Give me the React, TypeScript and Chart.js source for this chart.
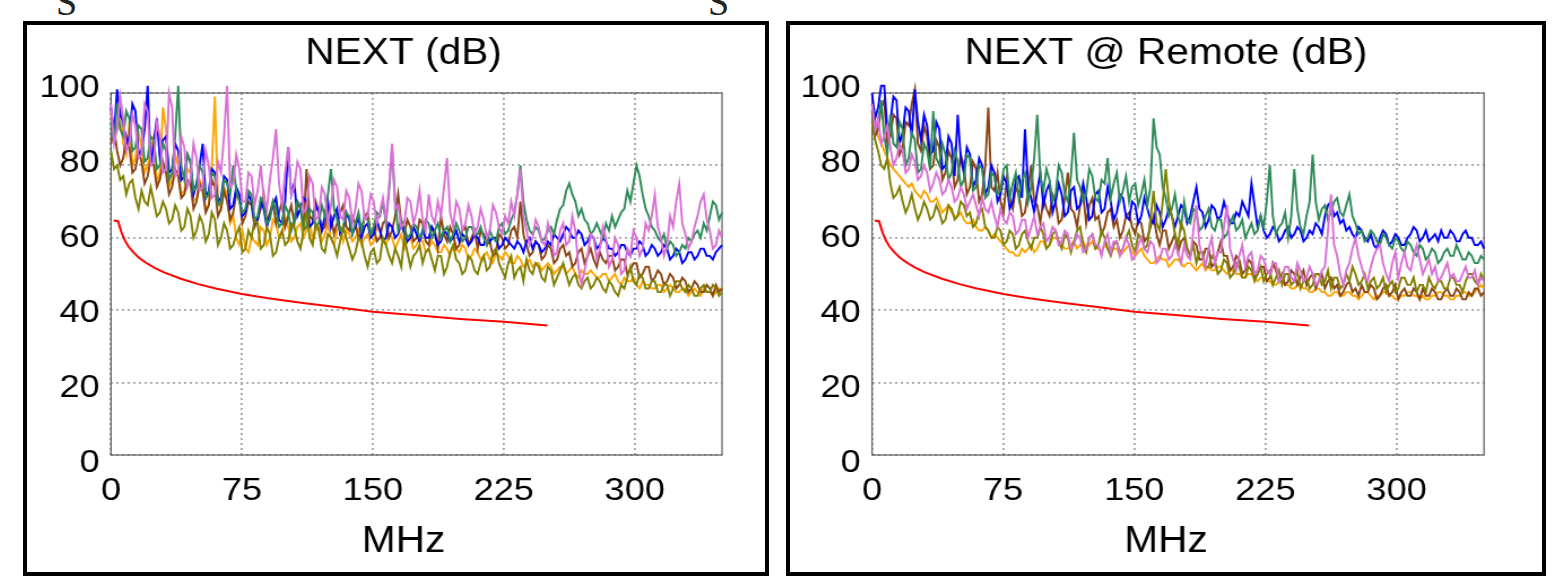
import React, { useEffect, useRef } from 'react';
import { Chart, registerables } from 'chart.js';

Chart.register(...registerables);

// ---------------- data ----------------
const freqMHz = [
  0, 1.75, 3.5, 5.25, 7, 8.75, 10.5, 12.25, 14, 15.75, 17.5, 19.25, 21, 22.75, 24.5, 26.25, 28, 29.75, 31.5, 33.25,
  35, 36.75, 38.5, 40.25, 42, 43.75, 45.5, 47.25, 49, 50.75, 52.5, 54.25, 56, 57.75, 59.5, 61.25, 63, 64.75, 66.5, 68.25,
  70, 71.75, 73.5, 75.25, 77, 78.75, 80.5, 82.25, 84, 85.75, 87.5, 89.25, 91, 92.75, 94.5, 96.25, 98, 99.75, 101.5, 103.25,
  105, 106.75, 108.5, 110.25, 112, 113.75, 115.5, 117.25, 119, 120.75, 122.5, 124.25, 126, 127.75, 129.5, 131.25, 133, 134.75, 136.5, 138.25,
  140, 141.75, 143.5, 145.25, 147, 148.75, 150.5, 152.25, 154, 155.75, 157.5, 159.25, 161, 162.75, 164.5, 166.25, 168, 169.75, 171.5, 173.25,
  175, 176.75, 178.5, 180.25, 182, 183.75, 185.5, 187.25, 189, 190.75, 192.5, 194.25, 196, 197.75, 199.5, 201.25, 203, 204.75, 206.5, 208.25,
  210, 211.75, 213.5, 215.25, 217, 218.75, 220.5, 222.25, 224, 225.75, 227.5, 229.25, 231, 232.75, 234.5, 236.25, 238, 239.75, 241.5, 243.25,
  245, 246.75, 248.5, 250.25, 252, 253.75, 255.5, 257.25, 259, 260.75, 262.5, 264.25, 266, 267.75, 269.5, 271.25, 273, 274.75, 276.5, 278.25,
  280, 281.75, 283.5, 285.25, 287, 288.75, 290.5, 292.25, 294, 295.75, 297.5, 299.25, 301, 302.75, 304.5, 306.25, 308, 309.75, 311.5, 313.25,
  315, 316.75, 318.5, 320.25, 322, 323.75, 325.5, 327.25, 329, 330.75, 332.5, 334.25, 336, 337.75, 339.5, 341.25, 343, 344.75, 346.5, 348.25, 350,
];

const limitFreq = [1.5, 4, 6, 8, 10, 13, 16, 20, 25, 30, 40, 50, 60, 75, 90, 110, 130, 150, 175, 200, 225, 250];
const limitDb = [64.8, 64.6, 61.5, 59.2, 57.6, 55.9, 54.5, 53.1, 51.7, 50.5, 48.7, 47.2, 46.0, 44.5, 43.3, 42.0, 40.8, 39.6, 38.6, 37.6, 36.8, 35.8];

const xTicks = [0, 75, 150, 225, 300];
const yTicks = [0, 20, 40, 60, 80, 100];

// ---- NEXT (dB) ----
const nextOlive = [
  84, 79, 80, 76, 77, 72, 75, 76, 71, 68, 73, 70, 69, 74, 70, 66, 67, 70, 68, 64,
  65, 69, 67, 62, 63, 68, 66, 60, 62, 66, 64, 59, 61, 67, 65, 58, 60, 64, 62, 57,
  58, 61, 63, 56, 57, 62, 60, 65, 64, 57, 58, 63, 61, 55, 56, 60, 62, 58, 59, 64,
  63, 59, 57, 62, 68, 60, 58, 64, 62, 57, 56, 61, 60, 58, 55, 59, 63, 60, 57, 54,
  56, 60, 59, 55, 52, 56, 57, 53, 54, 60, 58, 55, 53, 57, 55, 52, 60, 56, 52, 55,
  56, 58, 53, 56, 57, 54, 51, 55, 55, 50, 52, 56, 58, 54, 53, 50, 51, 55, 54, 51,
  50, 53, 55, 51, 52, 56, 57, 53, 51, 49, 53, 55, 49, 51, 52, 48, 54, 51, 50, 53,
  52, 49, 48, 52, 51, 47, 49, 51, 53, 50, 47, 49, 50, 47, 46, 48, 49, 46, 47, 49,
  48, 46, 45, 48, 47, 45, 44, 47, 46, 49, 52, 48, 47, 50, 49, 46, 46, 48, 48, 45,
  45, 47, 47, 44, 46, 48, 48, 46, 45, 47, 46, 44, 44, 46, 47, 45, 45, 47, 46, 44, 45,
];
const nextBrown = [
  86, 90, 84, 80, 82, 88, 85, 78, 79, 84, 81, 75, 77, 82, 80, 74, 76, 81, 78, 72,
  74, 79, 77, 71, 72, 76, 75, 68, 70, 75, 73, 67, 69, 76, 74, 66, 68, 73, 70, 65,
  67, 72, 71, 64, 66, 70, 69, 63, 65, 68, 72, 64, 67, 70, 64, 67, 70, 63, 66, 69,
  64, 70, 68, 63, 79, 66, 65, 70, 67, 62, 63, 68, 66, 61, 64, 67, 69, 63, 62, 66,
  64, 60, 61, 66, 67, 61, 63, 59, 60, 64, 65, 60, 62, 66, 72, 64, 61, 65, 63, 59,
  60, 65, 64, 59, 58, 63, 62, 57, 66, 61, 59, 63, 61, 57, 58, 62, 63, 58, 60, 62,
  57, 62, 61, 58, 59, 55, 56, 61, 60, 57, 58, 62, 63, 60, 70, 61, 58, 55, 56, 59,
  58, 54, 55, 58, 57, 53, 54, 57, 58, 55, 56, 52, 53, 56, 57, 53, 55, 57, 54, 52,
  56, 54, 53, 55, 55, 51, 52, 54, 54, 50, 51, 53, 53, 49, 50, 52, 52, 48, 49, 51,
  50, 47, 48, 50, 49, 46, 47, 49, 48, 45, 46, 48, 47, 45, 45, 47, 46, 44, 47, 45, 46,
];
const nextOrange = [
  95, 88, 90, 97, 86, 83, 92, 80, 82, 89, 85, 78, 80, 84, 88, 75, 78, 96, 90, 74,
  76, 83, 80, 72, 73, 79, 78, 70, 71, 76, 74, 68, 69, 80, 99, 70, 68, 74, 72, 64,
  66, 60, 58, 62, 57, 56, 60, 59, 58, 63, 62, 58, 60, 65, 64, 60, 61, 66, 63, 59,
  60, 63, 64, 60, 62, 65, 59, 62, 63, 59, 61, 64, 60, 58, 62, 63, 59, 62, 61, 59,
  60, 62, 58, 60, 61, 58, 59, 63, 62, 59, 58, 61, 60, 57, 59, 61, 57, 59, 60, 57,
  58, 60, 59, 56, 57, 59, 58, 56, 56, 58, 57, 55, 58, 57, 56, 58, 57, 54, 55, 57,
  56, 54, 55, 56, 54, 53, 56, 55, 54, 56, 55, 53, 53, 55, 54, 52, 53, 54, 52, 53,
  53, 51, 52, 53, 52, 50, 51, 52, 52, 50, 51, 52, 50, 49, 51, 50, 50, 51, 50, 49,
  49, 50, 50, 48, 49, 50, 48, 47, 49, 48, 48, 49, 47, 46, 48, 47, 47, 46, 46, 47,
  47, 45, 46, 47, 46, 45, 45, 46, 46, 44, 45, 46, 45, 44, 46, 45, 45, 44, 45, 46, 46,
];
const nextBlue = [
  96, 89, 101, 94, 92, 86, 88, 97, 95, 83, 84, 90, 102, 80, 86, 93, 82, 87, 88, 78,
  79, 86, 84, 76, 77, 83, 81, 72, 75, 80, 86, 71, 73, 79, 78, 70, 71, 77, 76, 68,
  69, 74, 72, 66, 67, 72, 70, 64, 65, 70, 68, 63, 66, 69, 71, 65, 64, 70, 85, 72,
  75, 66, 68, 71, 70, 63, 64, 69, 67, 62, 66, 70, 63, 66, 68, 61, 62, 67, 65, 61,
  63, 66, 60, 63, 64, 60, 61, 65, 62, 59, 60, 64, 63, 60, 61, 64, 62, 59, 60, 63,
  61, 59, 62, 60, 60, 63, 61, 58, 59, 62, 61, 59, 60, 62, 59, 61, 60, 58, 59, 61,
  60, 58, 58, 61, 59, 60, 60, 57, 58, 60, 59, 58, 57, 59, 58, 56, 59, 60, 57, 59,
  58, 56, 57, 59, 58, 61, 60, 59, 61, 63, 62, 60, 60, 62, 61, 58, 59, 61, 60, 57,
  58, 60, 59, 57, 57, 55, 56, 58, 58, 56, 55, 57, 57, 59, 58, 55, 56, 58, 57, 55,
  56, 58, 57, 54, 55, 57, 56, 53, 54, 56, 56, 54, 55, 57, 57, 55, 55, 54, 56, 57, 58,
];
const nextGreen = [
  92, 86, 97, 90, 88, 95, 93, 84, 85, 91, 90, 81, 82, 88, 87, 79, 80, 86, 84, 76,
  78, 88, 102, 80, 76, 83, 81, 73, 74, 80, 78, 71, 72, 78, 77, 69, 70, 76, 75, 72,
  80, 73, 70, 67, 68, 73, 72, 65, 66, 71, 70, 64, 65, 70, 68, 63, 64, 69, 67, 62,
  65, 70, 69, 62, 63, 68, 67, 63, 64, 69, 66, 72, 79, 68, 65, 62, 63, 67, 66, 61,
  64, 67, 62, 66, 65, 61, 63, 67, 66, 70, 64, 73, 85, 70, 62, 65, 63, 60, 61, 64,
  63, 60, 61, 65, 64, 60, 62, 64, 60, 62, 63, 59, 61, 64, 62, 59, 60, 63, 63, 61,
  61, 63, 60, 58, 62, 60, 59, 63, 64, 61, 62, 65, 67, 72, 80, 70, 65, 62, 61, 63,
  62, 59, 60, 62, 63, 61, 65, 68, 69, 73, 75, 72, 70, 66, 68, 65, 64, 61, 62, 64,
  62, 60, 64, 62, 66, 63, 65, 67, 68, 73, 70, 75, 80, 77, 72, 68, 66, 63, 62, 60,
  59, 61, 57, 59, 58, 55, 56, 58, 57, 60, 59, 61, 62, 60, 64, 62, 66, 70, 69, 65, 67,
];
const nextPink = [
  97, 86, 90, 99, 93, 84, 86, 94, 91, 82, 83, 97, 95, 80, 81, 92, 88, 78, 79, 100,
  96, 77, 78, 88, 85, 74, 76, 86, 82, 73, 74, 84, 80, 71, 72, 81, 78, 88, 102, 74,
  75, 83, 79, 70, 70, 78, 77, 69, 73, 80, 71, 68, 76, 82, 90, 75, 69, 78, 85, 72,
  74, 81, 79, 67, 68, 77, 75, 65, 66, 74, 72, 64, 69, 76, 74, 66, 65, 73, 71, 64,
  68, 75, 73, 65, 66, 72, 70, 64, 67, 71, 65, 74, 86, 68, 69, 63, 64, 71, 70, 64,
  67, 73, 65, 62, 72, 66, 64, 70, 66, 74, 82, 67, 63, 70, 68, 62, 64, 69, 66, 61,
  63, 68, 65, 60, 62, 69, 67, 63, 61, 66, 64, 70, 66, 72, 79, 66, 62, 58, 60, 65,
  63, 59, 58, 64, 61, 55, 56, 62, 64, 58, 59, 66, 62, 52, 47, 51, 55, 61, 60, 54,
  57, 63, 60, 52, 54, 60, 58, 50, 51, 57, 55, 62, 60, 55, 57, 64, 62, 66, 72, 63,
  60, 55, 58, 66, 63, 70, 75, 64, 61, 57, 59, 63, 66, 70, 72, 65, 62, 57, 58, 62, 60,
];

// ---- NEXT @ Remote (dB) ----
const remoteBlue = [
  100, 93, 96, 102, 102, 90, 92, 99, 98, 86, 89, 96, 95, 88, 101, 92, 87, 94, 91, 83,
  84, 92, 90, 79, 80, 88, 86, 77, 94, 82, 78, 85, 83, 74, 76, 82, 80, 72, 74, 80,
  78, 70, 72, 77, 75, 68, 70, 76, 77, 71, 90, 74, 71, 67, 73, 78, 69, 73, 75, 67,
  70, 75, 72, 66, 67, 73, 74, 68, 69, 75, 71, 65, 66, 72, 73, 67, 68, 74, 70, 65,
  67, 72, 71, 66, 65, 70, 69, 64, 66, 71, 68, 65, 64, 69, 67, 63, 65, 68, 66, 63,
  66, 69, 68, 64, 66, 70, 74, 68, 67, 63, 65, 69, 68, 65, 66, 70, 67, 64, 64, 67,
  66, 70, 68, 66, 75, 69, 63, 66, 62, 60, 61, 63, 62, 59, 60, 62, 63, 60, 61, 63,
  62, 59, 60, 62, 61, 64, 63, 61, 66, 69, 70, 66, 67, 64, 65, 62, 63, 61, 60, 63,
  62, 60, 59, 61, 58, 57, 60, 62, 61, 58, 59, 61, 60, 58, 58, 60, 61, 63, 62, 59,
  60, 62, 59, 60, 61, 59, 62, 60, 60, 62, 61, 59, 59, 61, 62, 60, 60, 58, 58, 59, 57,
];
const remoteGreen = [
  97, 90, 92, 98, 88, 83, 94, 86, 85, 92, 90, 80, 82, 89, 87, 78, 79, 86, 84, 79,
  95, 82, 80, 86, 83, 76, 78, 84, 81, 74, 76, 83, 82, 73, 74, 80, 79, 71, 72, 78,
  77, 72, 73, 79, 80, 71, 75, 78, 71, 76, 78, 70, 74, 82, 94, 77, 73, 79, 76, 70,
  72, 80, 78, 72, 70, 77, 89, 76, 74, 70, 72, 79, 77, 71, 70, 76, 75, 82, 71, 75,
  78, 70, 73, 77, 70, 74, 75, 69, 72, 76, 69, 74, 93, 85, 83, 74, 71, 66, 68, 72,
  66, 63, 70, 65, 64, 68, 67, 62, 63, 66, 68, 63, 62, 65, 65, 60, 61, 64, 66, 62,
  63, 65, 60, 62, 64, 61, 62, 66, 63, 70, 80, 66, 61, 63, 64, 67, 60, 66, 79, 68,
  63, 61, 66, 70, 83, 70, 65, 68, 69, 65, 67, 70, 71, 67, 66, 69, 72, 66, 64, 61,
  62, 59, 60, 62, 61, 59, 58, 61, 60, 58, 57, 60, 59, 57, 56, 59, 58, 56, 55, 58,
  57, 54, 55, 57, 56, 53, 54, 56, 57, 55, 55, 58, 56, 54, 54, 56, 55, 53, 53, 55, 54,
];
const remoteBrown = [
  95, 88, 90, 96, 98, 86, 88, 94, 93, 83, 85, 92, 91, 97, 101, 86, 84, 91, 88, 79,
  80, 87, 85, 76, 78, 84, 82, 74, 76, 83, 80, 72, 74, 81, 79, 70, 72, 80, 96, 74,
  73, 78, 70, 67, 76, 71, 68, 74, 72, 66, 67, 73, 80, 70, 69, 64, 71, 68, 66, 72,
  70, 64, 65, 71, 78, 68, 67, 63, 69, 72, 64, 69, 71, 65, 66, 61, 63, 67, 68, 63,
  65, 60, 62, 66, 67, 63, 61, 65, 64, 59, 60, 63, 66, 61, 58, 62, 62, 57, 59, 61,
  56, 59, 60, 57, 55, 59, 58, 54, 54, 57, 57, 52, 53, 56, 59, 55, 55, 51, 52, 55,
  54, 50, 51, 54, 53, 49, 50, 52, 52, 48, 49, 53, 51, 48, 50, 47, 48, 51, 50, 47,
  49, 51, 47, 49, 50, 46, 48, 50, 46, 48, 49, 46, 47, 44, 45, 47, 48, 45, 46, 44,
  47, 45, 45, 47, 46, 43, 44, 46, 47, 44, 45, 47, 43, 45, 46, 44, 44, 46, 45, 43,
  46, 44, 44, 46, 45, 43, 43, 45, 46, 44, 44, 46, 45, 43, 43, 45, 44, 46, 46, 44, 45,
];
const remoteOlive = [
  92, 87, 84, 80, 79, 82, 75, 71, 72, 74, 70, 67, 69, 72, 68, 65, 67, 70, 68, 65,
  66, 69, 67, 64, 65, 69, 68, 65, 66, 70, 69, 66, 67, 63, 64, 67, 68, 63, 62, 60,
  60, 63, 62, 58, 59, 62, 61, 57, 58, 61, 62, 59, 57, 60, 60, 63, 61, 57, 58, 61,
  62, 59, 57, 61, 60, 56, 59, 62, 63, 58, 56, 60, 61, 57, 58, 62, 60, 57, 55, 58,
  59, 56, 57, 60, 62, 58, 56, 61, 60, 57, 58, 65, 73, 64, 62, 70, 79, 70, 66, 61,
  58, 64, 62, 57, 55, 58, 53, 56, 56, 52, 52, 55, 54, 50, 51, 54, 53, 49, 50, 53,
  52, 49, 49, 52, 51, 48, 50, 52, 48, 50, 51, 47, 49, 51, 47, 50, 50, 47, 48, 51,
  46, 48, 49, 46, 47, 50, 50, 47, 48, 51, 46, 49, 49, 46, 47, 50, 48, 52, 50, 47,
  48, 50, 46, 48, 49, 46, 47, 49, 45, 47, 48, 45, 46, 49, 49, 47, 47, 49, 45, 47,
  47, 45, 49, 47, 46, 48, 48, 46, 46, 49, 49, 47, 47, 45, 48, 50, 50, 48, 47, 50, 48,
];
const remoteOrange = [
  95, 91, 88, 86, 84, 82, 80, 79, 78, 77, 76, 75, 74, 75, 73, 72, 71, 73, 72, 70,
  70, 71, 69, 67, 68, 69, 67, 66, 66, 67, 65, 64, 64, 65, 63, 62, 62, 63, 62, 60,
  61, 60, 59, 58, 57, 56, 56, 55, 55, 57, 56, 57, 58, 56, 57, 59, 59, 57, 58, 60,
  60, 59, 58, 57, 57, 58, 59, 57, 58, 59, 57, 58, 59, 57, 57, 56, 58, 57, 56, 57,
  57, 55, 56, 57, 58, 56, 55, 56, 57, 55, 54, 53, 53, 54, 55, 54, 54, 52, 53, 54,
  54, 53, 52, 53, 53, 52, 51, 52, 53, 51, 52, 51, 51, 52, 52, 51, 50, 51, 51, 50,
  50, 49, 49, 50, 50, 49, 48, 49, 49, 48, 48, 47, 47, 48, 48, 47, 47, 46, 46, 47,
  47, 46, 46, 45, 45, 46, 46, 45, 45, 44, 44, 45, 45, 44, 44, 45, 45, 44, 44, 43,
  44, 45, 45, 44, 43, 44, 44, 45, 45, 44, 44, 43, 43, 44, 44, 45, 45, 44, 44, 43,
  44, 43, 43, 44, 44, 45, 45, 44, 44, 43, 43, 44, 44, 45, 45, 44, 44, 45, 46, 47, 46,
];
const remotePink = [
  97, 90, 93, 86, 88, 91, 85, 80, 82, 86, 84, 78, 79, 83, 81, 76, 77, 80, 78, 73,
  75, 78, 76, 72, 73, 76, 74, 70, 71, 74, 72, 68, 70, 72, 69, 66, 71, 68, 67, 70,
  66, 63, 68, 65, 64, 67, 66, 61, 62, 65, 65, 60, 63, 66, 61, 63, 64, 59, 60, 63,
  62, 58, 59, 62, 61, 57, 58, 61, 60, 56, 57, 60, 61, 58, 58, 55, 59, 61, 56, 59,
  59, 55, 57, 60, 58, 54, 55, 58, 60, 57, 56, 59, 58, 53, 54, 57, 57, 54, 55, 58,
  56, 53, 58, 55, 54, 62, 69, 58, 55, 52, 57, 60, 53, 56, 56, 63, 69, 57, 54, 51,
  55, 58, 52, 55, 56, 50, 51, 55, 54, 51, 50, 53, 53, 48, 49, 52, 52, 49, 48, 53,
  51, 48, 49, 52, 50, 47, 48, 51, 52, 62, 72, 58, 55, 50, 47, 51, 53, 57, 60, 55,
  52, 49, 48, 52, 55, 57, 58, 53, 50, 48, 53, 56, 49, 53, 56, 52, 51, 55, 58, 54,
  50, 52, 54, 50, 52, 48, 49, 51, 53, 49, 50, 48, 48, 50, 52, 49, 49, 51, 47, 49, 48,
];

// ---------------- styling ----------------
const SX = 1.13; // horizontal stretch of the reference rendering
const FONT = "'Liberation Sans', Arial, Helvetica, sans-serif";
const GRID = '#a4a4a4';
const TITLE_SIZE = 36;
const TICK_SIZE = 32;
const C = {
  red: '#ff0000',
  pink: '#da70d6',
  olive: '#808000',
  green: '#2e8b57',
  blue: '#0000ff',
  brown: '#8b4513',
  orange: '#ffa500',
};

type Series = { label: string; color: string; values: number[] };

type PanelCfg = {
  title: string;
  boxLeft: number;
  boxWidth: number;
  chartLeftPx: number;
  chartRightPx: number;
  textCenterPx: number;
  series: Series[];
};

const frame = {
  id: 'frame',
  beforeDatasetsDraw(chart: any) {
    const { ctx, chartArea } = chart;
    const { left, top, right, bottom } = chartArea;
    ctx.save();
    ctx.strokeStyle = '#5a5a5a';
    ctx.lineWidth = 1.2;
    ctx.strokeRect(left, top, right - left, bottom - top);
    ctx.restore();
  },
};

const BOX_TOP = 21;
const BORDER = 4;
const CANVAS_H = 547;
const CHART_TOP = 68; // inside canvas
const CHART_BOTTOM = 430;

function Panel({ cfg }: { cfg: PanelCfg }) {
  const ref = useRef<HTMLCanvasElement | null>(null);
  const iL = cfg.boxLeft + BORDER;
  const cl = (cfg.chartLeftPx - iL) / SX;
  const cr = (cfg.chartRightPx - iL) / SX;
  const tc = (cfg.textCenterPx - iL) / SX;
  const canvasW = Math.ceil(2 * tc);
  const padR = canvasW - 2 * tc;
  const rW = 2 * tc - cr;

  useEffect(() => {
    if (!ref.current) return;
    const datasets: any[] = [
      {
        label: 'limit',
        data: limitFreq.map((f, i) => ({ x: f, y: limitDb[i] })),
        borderColor: C.red,
        borderWidth: 2,
      },
      ...cfg.series.map((s) => ({
        label: s.label,
        data: freqMHz.map((f, i) => ({ x: f, y: s.values[i] })),
        borderColor: s.color,
        borderWidth: 1.9,
      })),
    ].map((d) => ({
      ...d,
      xAxisID: 'x',
      yAxisID: 'y',
      pointRadius: 0,
      tension: 0,
      fill: false,
      clip: false,
    }));

    const tickFont = { family: FONT, size: TICK_SIZE };
    const titleFont = { family: FONT, size: TITLE_SIZE, weight: 'normal', lineHeight: 1.2 };
    const titleLine = TITLE_SIZE * 1.2;
    const titleTop = 29 - titleLine / 2;
    const subBottom = CANVAS_H - 517 - titleLine / 2;
    const xAxisH = CANVAS_H - CHART_BOTTOM - (titleLine + subBottom);
    const tickPad = 466 - CHART_BOTTOM - (TICK_SIZE * 1.2) / 2;

    const chart = new Chart(ref.current, {
      type: 'line',
      data: { datasets },
      options: {
        animation: false,
        responsive: false,
        events: [],
        layout: { padding: { left: 0, right: padR, top: 0, bottom: 0 } },
        plugins: {
          legend: { display: false },
          tooltip: { enabled: false },
          title: {
            display: true,
            text: cfg.title,
            color: '#000',
            font: titleFont,
            padding: { top: titleTop, bottom: CHART_TOP - titleTop - titleLine },
          },
          subtitle: {
            display: true,
            position: 'bottom',
            text: 'MHz',
            color: '#000',
            font: titleFont,
            padding: { top: 0, bottom: subBottom },
          },
        },
        scales: {
          x: {
            type: 'linear',
            position: 'bottom',
            min: 0,
            max: 350,
            afterBuildTicks: (s: any) => {
              s.ticks = xTicks.map((v) => ({ value: v }));
            },
            afterFit: (s: any) => {
              s.height = xAxisH;
            },
            grid: { color: GRID, lineWidth: 1.8, drawTicks: false },
            border: { display: false, dash: [2, 3] },
            ticks: { color: '#000', font: tickFont, padding: tickPad, maxRotation: 0, autoSkip: false },
          },
          yl: {
            type: 'linear',
            position: 'left',
            min: 2.13,
            max: 98.67,
            afterBuildTicks: (s: any) => {
              s.ticks = yTicks.map((v) => ({ value: v }));
            },
            afterFit: (s: any) => {
              s.width = cl;
            },
            grid: { display: false, drawTicks: false },
            border: { display: false },
            ticks: { color: '#000', font: tickFont, padding: 10, autoSkip: false },
          },
          y: {
            type: 'linear',
            position: 'left',
            min: 0,
            max: 100,
            afterBuildTicks: (s: any) => {
              s.ticks = yTicks.map((v) => ({ value: v }));
            },
            afterFit: (s: any) => {
              s.width = 0;
            },
            grid: { color: GRID, lineWidth: 1.8, drawTicks: false },
            border: { display: false, dash: [2, 3] },
            ticks: { display: false },
          },
          yr: {
            type: 'linear',
            position: 'right',
            min: 0,
            max: 100,
            afterFit: (s: any) => {
              s.width = rW;
            },
            grid: { display: false, drawTicks: false },
            border: { display: false },
            ticks: { display: false },
          },
        },
      } as any,
      plugins: [frame],
    });
    return () => chart.destroy();
  }, [cfg]);

  return (
    <div
      style={{
        position: 'absolute',
        left: cfg.boxLeft,
        top: BOX_TOP,
        width: cfg.boxWidth,
        height: 555,
        border: `${BORDER}px solid #000`,
        boxSizing: 'border-box',
      }}
    >
      <div style={{ position: 'absolute', left: 0, top: 0, transform: `scaleX(${SX})`, transformOrigin: '0 0' }}>
        <canvas
          ref={ref}
          width={canvasW}
          height={CANVAS_H}
          style={{ display: 'block', width: canvasW, height: CANVAS_H }}
        />
      </div>
    </div>
  );
}

const leftPanel: PanelCfg = {
  title: 'NEXT (dB)',
  boxLeft: 23,
  boxWidth: 746,
  chartLeftPx: 111,
  chartRightPx: 722,
  textCenterPx: 403.5,
  series: [
    { label: 'pink', color: C.pink, values: nextPink },
    { label: 'olive', color: C.olive, values: nextOlive },
    { label: 'green', color: C.green, values: nextGreen },
    { label: 'blue', color: C.blue, values: nextBlue },
    { label: 'brown', color: C.brown, values: nextBrown },
    { label: 'orange', color: C.orange, values: nextOrange },
  ],
};

const rightPanel: PanelCfg = {
  title: 'NEXT @ Remote (dB)',
  boxLeft: 786,
  boxWidth: 760,
  chartLeftPx: 872,
  chartRightPx: 1484,
  textCenterPx: 1166,
  series: [
    { label: 'pink', color: C.pink, values: remotePink },
    { label: 'olive', color: C.olive, values: remoteOlive },
    { label: 'green', color: C.green, values: remoteGreen },
    { label: 'blue', color: C.blue, values: remoteBlue },
    { label: 'brown', color: C.brown, values: remoteBrown },
    { label: 'orange', color: C.orange, values: remoteOrange },
  ],
};

export default function App() {
  const sStyle: React.CSSProperties = {
    position: 'absolute',
    top: -17,
    fontFamily: "'Liberation Serif', 'Times New Roman', serif",
    fontSize: 38,
    lineHeight: '38px',
    color: '#222',
  };
  return (
    <div
      style={{
        position: 'absolute',
        left: 0,
        top: 0,
        width: 1558,
        height: 588,
        background: '#fff',
        overflow: 'hidden',
      }}
    >
      <span style={{ ...sStyle, left: 56 }}>S</span>
      <span style={{ ...sStyle, left: 708 }}>S</span>
      <Panel cfg={leftPanel} />
      <Panel cfg={rightPanel} />
    </div>
  );
}
